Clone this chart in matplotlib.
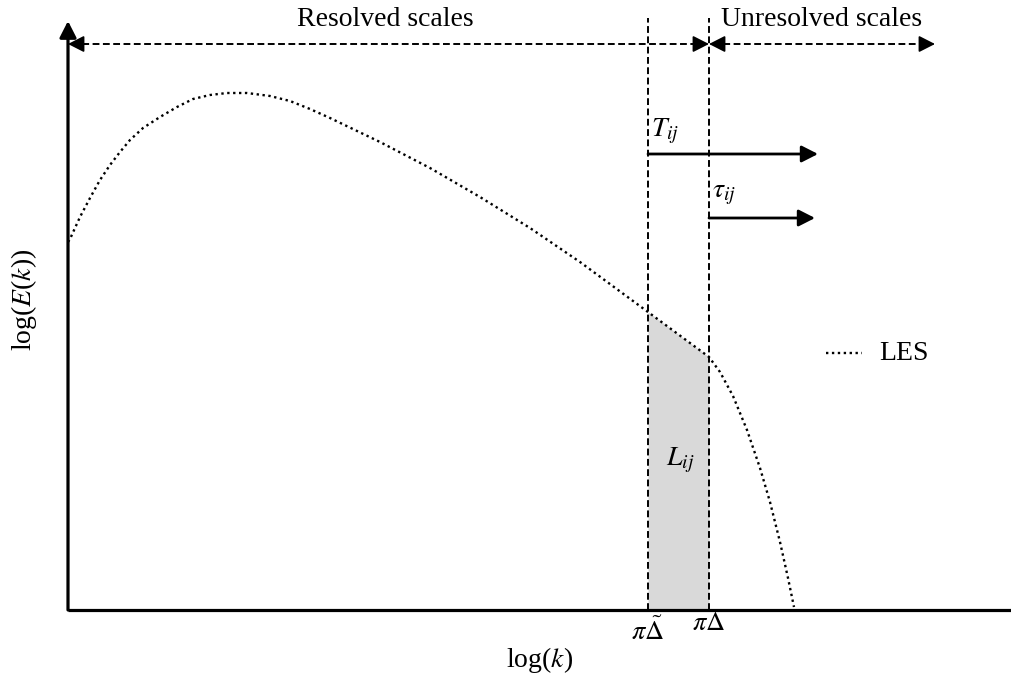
import matplotlib.pyplot as plt
import numpy as np

plt.rcParams['font.family'] = ['Liberation Serif', 'DejaVu Serif']
plt.rcParams['mathtext.fontset'] = 'stix'

# espectro LES: log(k) contra log(E(k)), origen en la esquina de los ejes
log_k = [0, 2, 12, 22, 32, 42, 52, 62, 75, 92, 109, 125, 142, 159, 179,
         202, 222, 242, 262, 312, 362, 412, 462, 512, 580, 641, 652, 665,
         679, 692, 702, 712, 720, 726]
log_E = [368, 371, 393, 412, 430, 445, 458, 470, 482, 493, 503, 511, 515,
         517, 517, 514, 509, 501, 492, 468, 442, 413, 382, 348, 298, 253,
         238, 214, 180, 142, 108, 68, 32, 3]

# numeros de onda de corte: filtro de prueba y filtro de malla
k_test = 580
k_grid = 641

# limites de las regiones de escalas
k_resolved_end = k_grid
k_unresolved_end = 867

fig = plt.figure(figsize=(10.11, 6.84), dpi=100)
ax = fig.add_axes([0, 0, 1, 1])
ax.set_xlim(-68, 943)
ax.set_ylim(-74, 610)
ax.axis('off')

k = np.array(log_k, dtype=float)
E = np.array(log_E, dtype=float)


def punta(x, y, dx, estilo='-|>,head_length=0.55,head_width=0.28'):
    # solo la cabeza de la flecha, apuntando a (x, y)
    ax.annotate('', xy=(x, y), xytext=(x - dx, y),
                arrowprops=dict(arrowstyle=estilo, color='k', lw=1.2,
                                shrinkA=0, shrinkB=0, mutation_scale=18))


# ejes
ax.plot([0, 943], [0, 0], color='k', lw=2.3, solid_capstyle='butt')
ax.annotate('', xy=(0, 589), xytext=(0, 0),
            arrowprops=dict(arrowstyle='-|>,head_length=0.55,head_width=0.28',
                            color='k', lw=2.3, shrinkA=0, shrinkB=0,
                            mutation_scale=18))

# zona sombreada entre los dos filtros (L_ij)
mask = (k >= k_test) & (k <= k_grid)
ax.fill_between(k[mask], 0, E[mask], color='#d9d9d9', lw=0, zorder=0)

# curva del espectro
ax.plot(k, E, color='k', lw=1.7, linestyle=(0, (1, 1.5)), label='LES')

# lineas verticales de corte
dash = (0, (3.5, 1.8))
for kc in (k_test, k_grid):
    ax.plot([kc, kc], [0, 592], color='k', lw=1.4, linestyle=dash)

# flechas discontinuas de escalas resueltas / no resueltas
y_esc = 566
ax.plot([4, k_resolved_end - 4], [y_esc, y_esc], color='k', lw=1.4, linestyle=dash)
punta(0, y_esc, -10)
punta(k_resolved_end, y_esc, 10)
ax.plot([k_grid + 4, k_unresolved_end - 4], [y_esc, y_esc], color='k', lw=1.4,
        linestyle=dash)
punta(k_grid, y_esc, -10)
punta(k_unresolved_end, y_esc, 10)

ax.text(317, 590, 'Resolved scales', fontsize=20, ha='center', va='center')
ax.text(754, 590, 'Unresolved scales', fontsize=20, ha='center', va='center')

# flechas de los tensores
for x0, x1, y, lab, xl, yl in [(k_test, 750, 456, r'$T_{ij}$', 597, 479),
                               (k_grid, 747, 392, r'$\tau_{ij}$', 656, 415)]:
    ax.annotate('', xy=(x1, y), xytext=(x0, y),
                arrowprops=dict(arrowstyle='-|>,head_length=0.55,head_width=0.28',
                                color='k', lw=2, shrinkA=0, shrinkB=0,
                                mutation_scale=18))
    ax.text(xl, yl, lab, fontsize=20, ha='center', va='center')

ax.text(612, 150, r'$L_{ij}$', fontsize=20, ha='center', va='center')

# leyenda
ax.plot([758, 794], [257, 257], color='k', lw=1.7, linestyle=(0, (1, 1.5)))
ax.text(811, 257, 'LES', fontsize=20, ha='left', va='center')

# marcas de los filtros
ax.text(k_test, -21, r'$\pi\tilde{\Delta}$', fontsize=19, ha='center', va='center')
ax.text(k_grid, -14, r'$\pi\Delta$', fontsize=19, ha='center', va='center')

ax.text(472, -50, r'log($k$)', fontsize=20, ha='center', va='center')
ax.text(-44, 310, r'log($E$($k$))', fontsize=20, ha='center', va='center',
        rotation=90)

fig.savefig('out.png', dpi=100)
